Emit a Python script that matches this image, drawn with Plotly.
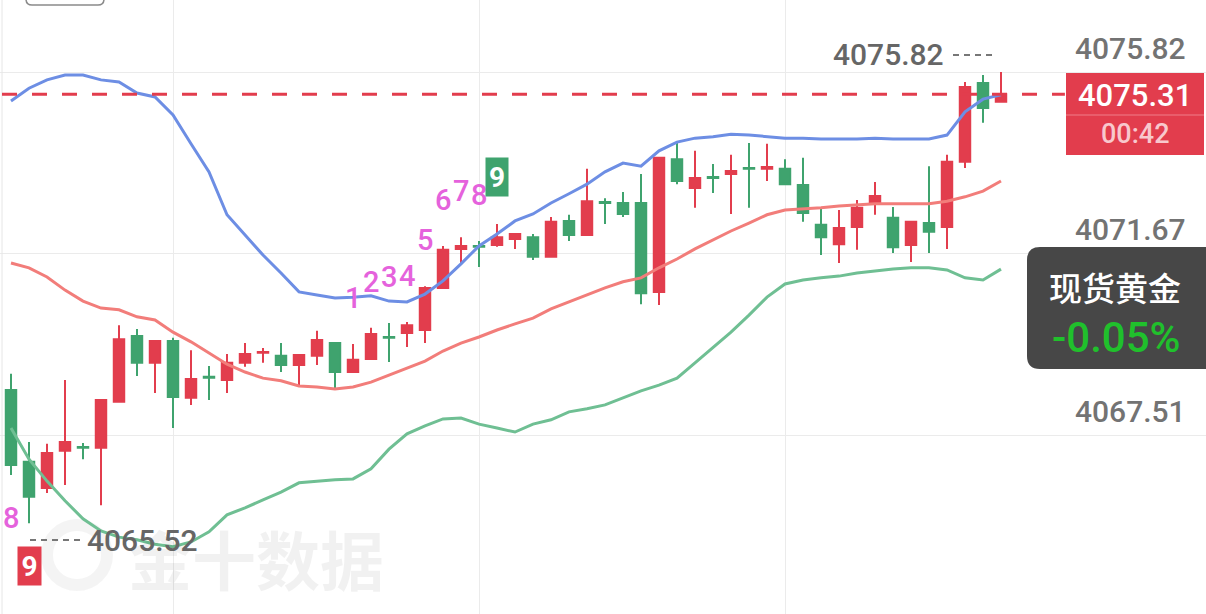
import plotly.graph_objects as go

# ---------------- data ----------------
open_ = [4068.56, 4066.92, 4066.32, 4067.17, 4067.26, 4067.24, 4068.29, 4069.79, 4069.18, 4069.68,
         4068.38, 4068.86, 4068.79, 4069.18, 4069.41, 4069.34, 4069.13, 4069.34, 4069.63, 4068.97,
         4069.27, 4069.77, 4069.86, 4069.93, 4070.89, 4071.78, 4071.85, 4071.87, 4072.01, 4072.05,
         4071.60, 4072.42, 4072.10, 4072.85, 4072.83, 4072.83, 4070.80, 4073.83, 4073.17, 4073.42,
         4073.49, 4073.63, 4073.61, 4073.61, 4073.24, 4072.33, 4071.89, 4072.28, 4072.83, 4072.49,
         4071.87, 4072.37, 4072.28, 4073.77, 4075.57, 4075.14]
high = [4068.93, 4067.37, 4067.33, 4068.79, 4067.35, 4068.35, 4070.04, 4069.95, 4069.70, 4069.75,
        4069.47, 4069.11, 4069.38, 4069.63, 4069.52, 4069.63, 4069.37, 4069.91, 4069.64, 4069.61,
        4069.98, 4070.09, 4070.11, 4070.93, 4071.85, 4072.05, 4071.96, 4072.35, 4072.13, 4072.12,
        4072.51, 4072.56, 4073.61, 4072.94, 4073.08, 4073.49, 4073.87, 4074.20, 4074.02, 4073.72,
        4073.93, 4074.20, 4074.18, 4073.83, 4073.86, 4072.74, 4072.67, 4072.90, 4073.31, 4072.74,
        4072.42, 4073.67, 4073.93, 4075.59, 4075.75, 4075.82]
low = [4066.62, 4065.52, 4066.21, 4066.39, 4066.98, 4065.93, 4068.27, 4068.88, 4068.49, 4067.69,
       4068.22, 4068.33, 4068.49, 4069.09, 4069.18, 4068.97, 4068.65, 4069.13, 4068.58, 4068.96,
       4069.26, 4069.20, 4069.54, 4069.63, 4070.88, 4071.46, 4071.37, 4071.83, 4071.78, 4071.53,
       4071.59, 4071.96, 4072.09, 4072.35, 4072.51, 4070.52, 4070.50, 4073.26, 4072.72, 4073.06,
       4072.58, 4072.72, 4073.33, 4073.25, 4072.40, 4071.64, 4071.46, 4071.76, 4072.56, 4071.69,
       4071.48, 4071.69, 4071.78, 4073.63, 4074.66, 4075.13]
close = [4066.85, 4066.12, 4067.12, 4067.37, 4067.24, 4068.33, 4069.72, 4069.18, 4069.68, 4068.40,
         4068.81, 4068.84, 4069.18, 4069.38, 4069.43, 4069.13, 4069.36, 4069.70, 4068.97, 4069.25,
         4069.84, 4069.75, 4070.04, 4070.89, 4071.76, 4071.85, 4071.83, 4072.05, 4072.12, 4071.60,
         4072.40, 4072.10, 4072.87, 4072.83, 4072.58, 4070.77, 4073.86, 4073.33, 4073.40, 4073.40,
         4073.56, 4073.61, 4073.65, 4073.26, 4072.60, 4072.05, 4072.26, 4072.72, 4072.99, 4071.82,
         4072.40, 4072.17, 4073.77, 4075.48, 4075.00, 4075.31]

boll_upper = [4075.16, 4075.45, 4075.64, 4075.75, 4075.75, 4075.64, 4075.59, 4075.34, 4075.25, 4074.84,
              4074.18, 4073.54, 4072.56, 4072.10, 4071.64, 4071.23, 4070.80, 4070.73, 4070.66, 4070.68,
              4070.71, 4070.59, 4070.57, 4070.75, 4071.05, 4071.44, 4071.85, 4072.12, 4072.42, 4072.58,
              4072.83, 4073.04, 4073.26, 4073.54, 4073.74, 4073.67, 4074.02, 4074.22, 4074.31, 4074.34,
              4074.40, 4074.38, 4074.34, 4074.31, 4074.31, 4074.29, 4074.29, 4074.29, 4074.31, 4074.29,
              4074.29, 4074.29, 4074.38, 4074.91, 4075.20, 4075.30]
boll_mid = [4071.46, 4071.35, 4071.14, 4070.84, 4070.59, 4070.43, 4070.39, 4070.23, 4070.16, 4069.88,
            4069.66, 4069.41, 4069.15, 4068.97, 4068.83, 4068.77, 4068.65, 4068.63, 4068.58, 4068.63,
            4068.74, 4068.90, 4069.06, 4069.22, 4069.45, 4069.63, 4069.77, 4069.93, 4070.07, 4070.20,
            4070.41, 4070.57, 4070.73, 4070.89, 4071.03, 4071.12, 4071.35, 4071.55, 4071.78, 4071.98,
            4072.19, 4072.37, 4072.56, 4072.67, 4072.69, 4072.72, 4072.76, 4072.78, 4072.81, 4072.81,
            4072.81, 4072.81, 4072.87, 4072.97, 4073.10, 4073.33]
boll_lower = [4067.69, 4066.98, 4066.48, 4066.03, 4065.62, 4065.34, 4065.20, 4065.14, 4065.04, 4064.98,
              4065.09, 4065.32, 4065.71, 4065.87, 4066.05, 4066.23, 4066.44, 4066.48, 4066.51, 4066.53,
              4066.76, 4067.21, 4067.56, 4067.74, 4067.90, 4067.92, 4067.78, 4067.69, 4067.60, 4067.78,
              4067.88, 4068.06, 4068.13, 4068.22, 4068.38, 4068.54, 4068.67, 4068.83, 4069.18, 4069.54,
              4069.88, 4070.27, 4070.68, 4070.98, 4071.07, 4071.12, 4071.16, 4071.23, 4071.28, 4071.32,
              4071.35, 4071.35, 4071.30, 4071.12, 4071.07, 4071.32]

y_ticks = [4075.82, 4071.67, 4067.51]
y_tick_labels = ["4075.82", "4071.67", "4067.51"]
last_price = 4075.31
last_price_label = "4075.31"
countdown = "00:42"
visible_high = 4075.82
visible_low = 4065.52
instrument = "现货黄金"
change_pct = "-0.05%"
watermark = "金十数据"

# TD sequential marks: (candle index, label)
td_up = [(19, "1"), (20, "2"), (21, "3"), (22, "4"), (23, "5"), (24, "6"), (25, "7"), (26, "8")]
td_up_nine = 27
td_down = [(0, "8")]
td_down_nine = 1

# ---------------- figure ----------------
W, H = 1206, 614
idx = list(range(len(close)))
RED = "#e23d4d"
GREEN = "#3fa36e"
NUMFONT = "Roboto"


def px(x):
    return x / W


def py(y):
    return 1 - y / H


def rrect(x0, y0, x1, y1, r):
    rx, ry = r / W, r / H
    X0, X1, Y0, Y1 = px(x0), px(x1), py(y0), py(y1)
    return (f"M {X0 + rx},{Y0} L {X1 - rx},{Y0} Q {X1},{Y0} {X1},{Y0 - ry} "
            f"L {X1},{Y1 + ry} Q {X1},{Y1} {X1 - rx},{Y1} L {X0 + rx},{Y1} "
            f"Q {X0},{Y1} {X0},{Y1 + ry} L {X0},{Y0 - ry} Q {X0},{Y0} {X0 + rx},{Y0} Z")


fig = go.Figure()

fig.add_trace(go.Candlestick(
    x=idx, open=open_, high=high, low=low, close=close,
    increasing=dict(line=dict(color=RED, width=2), fillcolor=RED),
    decreasing=dict(line=dict(color=GREEN, width=2), fillcolor=GREEN),
    whiskerwidth=0, hoverinfo="skip", showlegend=False,
))

for vals, col in [(boll_upper, "#6d8ee4"), (boll_mid, "#f27d7a"), (boll_lower, "#6fbf93")]:
    fig.add_trace(go.Scatter(x=idx, y=vals, mode="lines",
                             line=dict(color=col, width=3), hoverinfo="skip",
                             showlegend=False))

shapes = []
annotations = []

# left border
shapes.append(dict(type="line", xref="paper", yref="paper", x0=px(2), x1=px(2), y0=0, y1=1,
                   line=dict(color="#e6e6e6", width=1)))
# top-left button outline
shapes.append(dict(type="path", xref="paper", yref="paper", path=rrect(26, -20, 104, 5, 6),
                   line=dict(color="#8a8a8a", width=1.5), fillcolor="rgba(0,0,0,0)"))

# last price dashed line
shapes.append(dict(type="line", xref="x", yref="y", x0=-0.5, x1=58.55, y0=last_price, y1=last_price,
                   line=dict(color=RED, width=3, dash="15px,15px"), layer="above"))

# watermark (logo ring + text)
shapes.append(dict(type="circle", xref="paper", yref="paper", x0=px(47), x1=px(107), y0=py(585), y1=py(525),
                   line=dict(color="rgba(0,0,0,0.045)", width=12), fillcolor="rgba(0,0,0,0)", layer="below"))
annotations.append(dict(xref="paper", yref="paper", x=px(256), y=py(557), text=f"<b>{watermark}</b>",
                        showarrow=False, font=dict(family="Noto Sans CJK SC", size=64, color="rgba(0,0,0,0.055)"),
                        xanchor="center", yanchor="middle"))

# y-axis labels
for v, t in zip(y_ticks, y_tick_labels):
    annotations.append(dict(xref="paper", yref="y", x=px(1188), y=v, yshift=24, text=t, showarrow=False,
                            xanchor="right", yanchor="middle",
                            font=dict(family=NUMFONT, size=30, color="#737373", weight=500)))

# visible high / low markers
annotations.append(dict(xref="paper", yref="y", x=px(888), y=visible_high, yshift=18, text=f"{visible_high:.2f}",
                        showarrow=False, xanchor="center", yanchor="middle",
                        font=dict(family=NUMFONT, size=30, color="#666666", weight=500)))
shapes.append(dict(type="line", xref="paper", yref="paper", x0=px(953), x1=px(997), y0=py(55), y1=py(55),
                   line=dict(color="#777777", width=2, dash="6px,5px")))
annotations.append(dict(xref="paper", yref="y", x=px(142), y=visible_low, yshift=-17, text=f"{visible_low:.2f}",
                        showarrow=False, xanchor="center", yanchor="middle",
                        font=dict(family=NUMFONT, size=30, color="#666666", weight=500)))
shapes.append(dict(type="line", xref="paper", yref="paper", x0=px(30), x1=px(85), y0=py(540), y1=py(540),
                   line=dict(color="#777777", width=2, dash="6px,5px")))

# last price box
shapes.append(dict(type="rect", xref="paper", yref="paper", x0=px(1066), x1=px(1204), y0=py(155), y1=py(73),
                   fillcolor=RED, line=dict(width=0), layer="above"))
shapes.append(dict(type="line", xref="paper", yref="paper", x0=px(1066), x1=px(1204), y0=py(115), y1=py(115),
                   line=dict(color="#f07f8a", width=1), layer="above"))
annotations.append(dict(xref="paper", yref="paper", x=px(1135), y=py(95), text=last_price_label, showarrow=False,
                        xanchor="center", yanchor="middle",
                        font=dict(family=NUMFONT, size=31, color="white", weight=500)))
annotations.append(dict(xref="paper", yref="paper", x=px(1135), y=py(134), text=countdown, showarrow=False,
                        xanchor="center", yanchor="middle",
                        font=dict(family=NUMFONT, size=27, color="#f8c8cd", weight=500)))

# instrument box
shapes.append(dict(type="path", xref="paper", yref="paper", path=rrect(1027, 247, 1222, 369, 13),
                   fillcolor="#474747", line=dict(width=0), layer="above"))
annotations.append(dict(xref="paper", yref="paper", x=px(1115), y=py(287), text=instrument, showarrow=False,
                        xanchor="center", yanchor="middle",
                        font=dict(family="Noto Sans CJK SC", size=33, color="white", weight=500)))
annotations.append(dict(xref="paper", yref="paper", x=px(1116), y=py(337), text=change_pct, showarrow=False,
                        xanchor="center", yanchor="middle",
                        font=dict(family=NUMFONT, size=42, color="#20c02c", weight=500)))

# TD sequential numbers
PINK = "#e562dc"
for i, t in td_up:
    annotations.append(dict(xref="x", yref="y", x=i, y=high[i], yshift=46, text=t, showarrow=False,
                            xanchor="center", yanchor="middle",
                            font=dict(family=NUMFONT, size=29, color=PINK, weight=500)))
annotations.append(dict(xref="x", yref="y", x=td_up_nine, y=high[td_up_nine], yshift=47, text="<b>9</b>",
                        showarrow=False, xanchor="center", yanchor="middle", bgcolor=GREEN, width=22, height=38,
                        borderpad=0, font=dict(family=NUMFONT, size=28, color="white")))
for i, t in td_down:
    annotations.append(dict(xref="x", yref="y", x=i, y=low[i], yshift=-43, text=t, showarrow=False,
                            xanchor="center", yanchor="middle",
                            font=dict(family=NUMFONT, size=29, color=PINK, weight=500)))
annotations.append(dict(xref="x", yref="y", x=td_down_nine, y=low[td_down_nine], yshift=-43, text="<b>9</b>",
                        showarrow=False, xanchor="center", yanchor="middle", bgcolor=RED, width=23, height=38,
                        borderpad=0, font=dict(family=NUMFONT, size=28, color="white")))

ppu = 43.8  # pixels per price unit
y_top = y_ticks[0] + 72 / ppu
y_bot = y_ticks[0] - (H - 72) / ppu
x_left = -11 / 18
x_right = x_left + W / 18

fig.update_layout(
    width=W, height=H, margin=dict(l=0, r=0, t=0, b=0),
    paper_bgcolor="white", plot_bgcolor="white",
    showlegend=False, boxgap=0.17,
    shapes=shapes, annotations=annotations,
    xaxis=dict(range=[x_left, x_right], tickvals=[9, 26, 43], showgrid=True, gridcolor="#ebebeb",
               gridwidth=1, showticklabels=False, zeroline=False, showline=False,
               rangeslider=dict(visible=False), fixedrange=True),
    yaxis=dict(range=[y_bot, y_top], tickvals=y_ticks, showgrid=True, gridcolor="#ebebeb",
               gridwidth=1, showticklabels=False, zeroline=False, showline=False, fixedrange=True),
)

fig.write_html("out.html", config={"displayModeBar": False},
               post_script="document.body.style.margin='0';document.body.style.overflow='hidden';")
